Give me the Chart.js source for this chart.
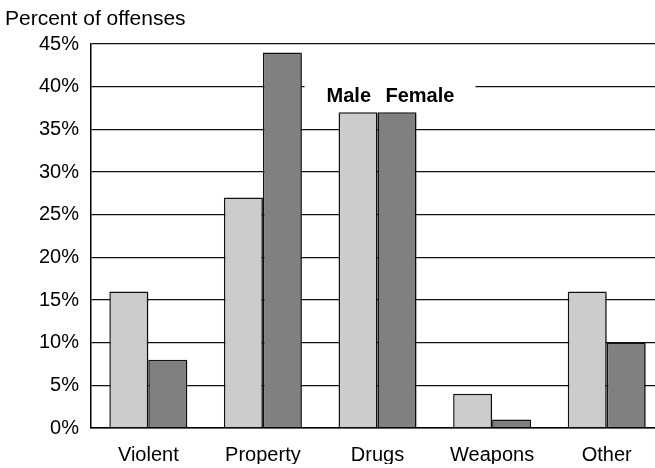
<!DOCTYPE html>
<html>
<head>
<meta charset="utf-8">
<script src="https://cdn.jsdelivr.net/npm/chart.js@4"></script>
<style>
  html, body { margin: 0; padding: 0; background: #fff; overflow: hidden; }
  canvas { display: block; }
</style>
</head>
<body>
<canvas id="graficoDelitos" width="664" height="468"></canvas>
<script>
const categorias = ["Violent", "Property", "Drugs", "Weapons", "Other"];
const valoresMale = [16, 27, 37, 4, 16];
const valoresFemale = [8, 44, 37, 1, 10];
const ticksY = [0, 5, 10, 15, 20, 25, 30, 35, 40, 45];

const fuente = "'Liberation Sans', Arial, sans-serif";

// sombra gris a la derecha de las barras
const sombraBarras = {
    id: "sombraBarras",
    beforeDatasetDraw(chart) {
        const ctx = chart.ctx;
        ctx.save();
        ctx.shadowColor = "rgba(0,0,0,0.28)";
        ctx.shadowOffsetX = 2;
        ctx.shadowOffsetY = 1;
        ctx.shadowBlur = 0;
    },
    afterDatasetDraw(chart) {
        chart.ctx.restore();
    },
};

// titulo del eje y etiquetas Male / Female encima de Drugs
const textos = {
    id: "textos",
    afterDraw(chart) {
        const ctx = chart.ctx;
        const y = chart.scales.y;
        const barM = chart.getDatasetMeta(0).data[2];
        const barF = chart.getDatasetMeta(1).data[2];
        ctx.save();
        ctx.fillStyle = "#000";
        ctx.font = "21px " + fuente;
        ctx.textBaseline = "alphabetic";
        ctx.textAlign = "left";
        ctx.fillText("Percent of offenses", 5, 25);

        const izq = barM.x - barM.width / 2;
        const der = barF.x + barF.width / 2;
        ctx.fillStyle = "#fff";
        ctx.fillRect(izq - 34, y.getPixelForValue(40) - 8, der - izq + 34 + 59, 22);
        ctx.fillStyle = "#000";
        ctx.font = "bold 20px " + fuente;
        ctx.fillText("Male", izq - 12, y.getPixelForValue(37) - 10);
        ctx.fillText("Female", barF.x - barF.width / 2 + 8, y.getPixelForValue(37) - 10);
        ctx.restore();
    },
};

const dataGraficoDelitos = {
    labels: categorias,
    datasets: [
        {
            label: "Male",
            backgroundColor: "#cccccc",
            borderColor: "#111",
            borderWidth: 1.5,
            data: valoresMale,
        },
        {
            label: "Female",
            backgroundColor: "#808080",
            borderColor: "#111",
            borderWidth: 1.5,
            data: valoresFemale,
        },
    ],
};

const configGraficoDelitos = {
    type: "bar",
    data: dataGraficoDelitos,
    options: {
        responsive: false,
        animation: false,
        devicePixelRatio: 1,
        layout: {
            padding: { top: 44, right: 0, bottom: 4, left: 0 },
        },
        datasets: {
            bar: {
                categoryPercentage: 0.68,
                barPercentage: 1.0,
            },
        },
        scales: {
            x: {
                afterFit(scale) {
                    scale.height = 36;
                },
                grid: { display: false, drawTicks: false },
                border: { display: true, color: "#000", width: 1.5 },
                ticks: {
                    color: "#000",
                    padding: 15,
                    font: { family: fuente, size: 20 },
                },
            },
            y: {
                min: 0,
                max: 45,
                afterFit(scale) {
                    scale.width = 91;
                },
                afterBuildTicks(scale) {
                    scale.ticks = ticksY.map((v) => ({ value: v }));
                },
                grid: {
                    color: "#111",
                    lineWidth: 1.3,
                    drawTicks: false,
                },
                border: { display: true, color: "#000", width: 1.5 },
                ticks: {
                    color: "#000",
                    padding: 12,
                    font: { family: fuente, size: 20 },
                    callback: (v) => v + "%",
                },
            },
        },
        plugins: {
            legend: { display: false },
            tooltip: { enabled: false },
        },
    },
    plugins: [sombraBarras, textos],
};

const grafico = new Chart(
    document.getElementById("graficoDelitos"),
    configGraficoDelitos
);
</script>
</body>
</html>
